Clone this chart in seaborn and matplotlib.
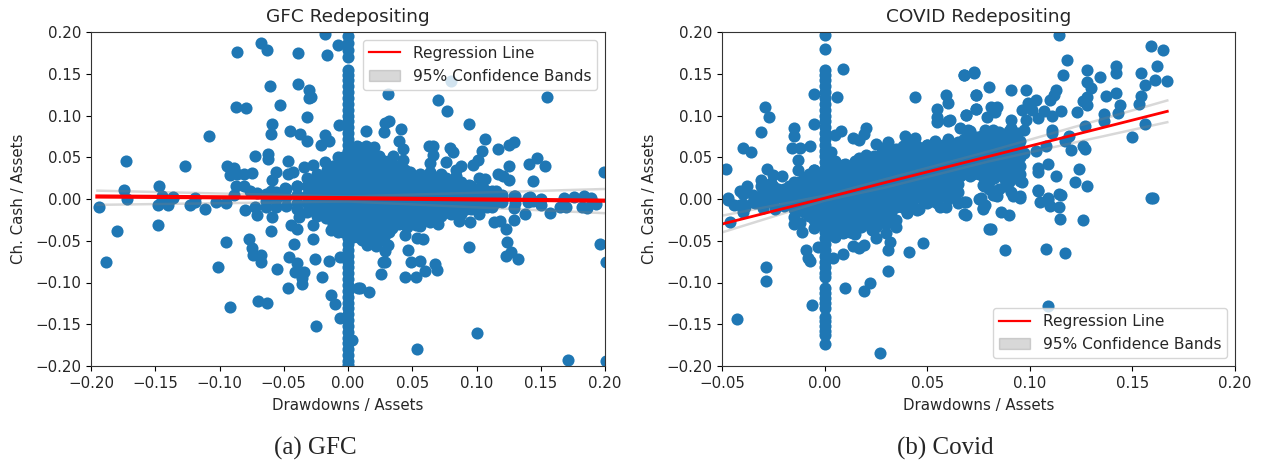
import pandas as pd
import seaborn as sns
import matplotlib.pyplot as plt
from matplotlib.lines import Line2D
from matplotlib.patches import Patch

# GFC panel: points
gfc_upper = [(-0.173,0.045),(-0.174,0.011),(-0.147,0.015),(-0.127,0.039),(-0.108,0.076),(-0.087,0.110),(-0.079,0.109),
    (-0.086,0.176),(-0.068,0.187),(-0.063,0.179),(-0.039,0.175),(-0.018,0.198),(-0.016,0.172),(-0.008,0.184),
    (-0.061,0.135),(-0.039,0.138),(-0.030,0.131),(-0.030,0.121),(-0.029,0.122),(-0.053,0.113),(-0.032,0.098),
    (-0.059,0.090),(-0.060,0.078),(-0.045,0.082),(-0.037,0.078),(-0.032,0.070),(-0.021,0.065),(-0.018,0.077),
    (-0.015,0.069),(-0.007,0.089),(-0.072,0.052),(-0.062,0.054),(-0.062,0.048),(-0.047,0.045),(-0.018,0.044),
    (-0.034,0.038),(-0.027,0.041),(-0.094,0.040),(-0.089,0.037),(-0.092,0.029),(-0.086,0.030),(-0.081,0.030),
    (-0.075,0.031),(-0.056,0.032),(-0.059,0.023),(-0.047,0.030),(-0.043,0.032),(-0.087,0.016),(-0.081,0.015),
    (-0.089,0.005),(-0.076,0.009),(-0.071,0.007),(-0.060,0.009),(-0.049,0.013),(-0.040,0.015),(-0.136,0.002),
    (-0.145,0.003),(-0.119,0.001),
    (0.031,0.126),(0.070,0.118),(0.077,0.105),(0.080,0.141),(0.155,0.122),(0.094,0.090),(0.029,0.091),(0.032,0.093),
    (0.028,0.080),(0.041,0.084),(0.014,0.082),(0.107,0.072),(0.040,0.069),(0.043,0.060),(0.063,0.064),(0.066,0.064),
    (0.079,0.061),(0.082,0.056),(0.104,0.058),(0.117,0.060),(0.125,0.065),(0.129,0.068),(0.007,0.063),(0.014,0.063),
    (0.020,0.062),(0.035,0.051),(0.024,0.051),(0.043,0.047),(0.064,0.043),(0.066,0.053),(0.076,0.044),(0.088,0.040),
    (0.084,0.035),(0.084,0.027),(0.097,0.041),(0.101,0.047),(0.125,0.039),(0.141,0.042),(0.147,0.049),(0.153,0.039),
    (0.144,0.022),(0.117,0.030),(0.121,0.027),(0.125,0.023),(0.102,0.025),(0.107,0.024),(0.199,0.032),(0.094,0.017),
    (0.105,0.013),(0.115,0.010),(0.129,0.003),(0.142,0.002),(0.168,0.001),(0.176,0.002),(0.184,0.003),(0.189,0.001)]
gfc_lower = [(-0.194,-0.010),(-0.188,-0.076),(-0.180,-0.038),(-0.172,0.000),(-0.148,-0.031),(-0.148,-0.007),(-0.140,-0.007),
    (-0.145,0.001),(-0.136,0.001),(-0.123,-0.007),(-0.119,-0.003),(-0.111,-0.012),(-0.103,-0.004),(-0.095,-0.005),
    (-0.095,-0.052),(-0.101,-0.081),(-0.092,-0.129),(-0.077,-0.048),(-0.075,-0.059),(-0.074,-0.067),(-0.068,-0.067),
    (-0.068,-0.075),(-0.055,-0.084),(-0.070,-0.122),(-0.063,-0.125),(-0.060,-0.038),(-0.059,-0.021),(-0.071,-0.019),
    (-0.080,-0.013),(-0.072,-0.009),(-0.044,-0.031),(-0.040,-0.036),(-0.038,-0.021),(-0.042,-0.054),(-0.046,-0.069),
    (-0.040,-0.077),(-0.041,-0.088),(-0.034,-0.087),(-0.036,-0.095),(-0.036,-0.102),(-0.047,-0.107),(-0.027,-0.048),
    (-0.026,-0.072),(-0.015,-0.074),(-0.020,-0.094),(-0.027,-0.031),(-0.017,-0.023),(-0.013,-0.037),(-0.013,-0.115),
    (-0.010,-0.126),(-0.006,-0.143),(-0.025,-0.152),(-0.006,-0.069),(0.008,-0.106),(0.003,-0.169),
    (0.009,-0.106),(0.016,-0.111),(0.100,-0.160),(0.054,-0.180),(0.171,-0.193),(0.2005,-0.194),(0.196,-0.054),
    (0.2005,-0.075),(0.094,-0.058),(0.123,-0.068),(0.127,-0.063),(0.132,-0.072),(0.124,-0.051),(0.123,-0.036),
    (0.129,-0.025),(0.138,-0.018),(0.157,-0.017),(0.114,-0.027),(0.118,-0.026),(0.095,-0.028),(0.102,-0.018),
    (0.086,-0.026),(0.070,-0.030),(0.047,-0.061),(0.049,-0.075),(0.056,-0.074),(0.068,-0.078),(0.069,-0.085),
    (0.060,-0.086),(0.053,-0.093),(0.044,-0.094),(0.026,-0.090),(0.027,-0.076),(0.029,-0.076),(0.029,-0.062),
    (0.031,-0.055),(0.022,-0.056),(0.015,-0.055),(0.011,-0.049),(0.058,-0.048),(0.054,-0.047),(0.044,-0.043),
    (0.034,-0.035),(0.037,-0.029),(0.046,-0.033),(0.053,-0.031),(0.020,-0.041),(0.129,-0.011),(0.165,-0.010),
    (0.182,-0.009),(0.186,-0.011),(0.193,-0.006),(0.170,-0.009),(0.150,-0.007),(0.144,-0.002)]
gfc_column = [0.195,0.187,0.178,0.170,0.155,0.149,0.142,0.135,0.128,0.121,0.114,0.107,0.100,0.093,0.086,0.079,0.072,
    0.065,0.058,0.051,0.044,0.037,0.030,0.023,0.016,0.009,0.002,-0.005,-0.012,-0.019,-0.026,-0.033,-0.040,-0.047,
    -0.054,-0.061,-0.068,-0.075,-0.082,-0.089,-0.096,-0.103,-0.110,-0.117,-0.124,-0.131,-0.138,-0.145,-0.152,-0.159,
    -0.166,-0.173,-0.180,-0.187,-0.194,-0.199]
# dense middle of the GFC cloud, one y list per x
gfc_dense_x = [-0.064,-0.056,-0.048,-0.040,-0.032,-0.024,-0.016,-0.008,0.008,0.016,0.024,0.032,0.040,0.048,0.056,0.064,
    0.072,0.080,0.088,0.096,0.104,0.112,0.120,0.130,0.140,0.150,
    -0.028,-0.020,-0.012,-0.004,0.004,0.012,0.020,0.028,0.036,0.044,0.052,0.060,0.068,0.076,0.084,0.092,0.100,0.108,0.116]
gfc_dense_y = [[0.006,-0.002,-0.010],[0.008,0.000,-0.009],[0.012,0.002,-0.008],[0.015,0.005,-0.005,-0.012],
    [0.025,0.015,0.005,-0.005,-0.015],[0.030,0.020,0.010,0.000,-0.010,-0.020],[0.035,0.024,0.013,0.002,-0.009,-0.020],
    [0.050,0.040,0.030,0.020,0.010,0.000,-0.010,-0.020,-0.030,-0.040],
    [0.062,0.050,0.040,0.030,0.020,0.010,0.000,-0.010,-0.020,-0.030,-0.040,-0.045],
    [0.058,0.047,0.036,0.025,0.014,0.003,-0.008,-0.019,-0.030,-0.041,-0.050],
    [0.050,0.040,0.030,0.020,0.010,0.000,-0.010,-0.020,-0.030,-0.040,-0.050],
    [0.045,0.035,0.025,0.015,0.005,-0.005,-0.015,-0.025,-0.040],[0.040,0.030,0.020,0.010,0.000,-0.010,-0.020,-0.030],
    [0.032,0.022,0.012,0.002,-0.008,-0.018,-0.028],[0.030,0.020,0.010,0.000,-0.010,-0.020,-0.032],
    [0.032,0.022,0.012,0.002,-0.008,-0.018,-0.028],[0.030,0.020,0.010,0.000,-0.010,-0.020],
    [0.022,0.012,0.002,-0.008,-0.018],[0.020,0.010,0.000,-0.010,-0.018],[0.015,0.005,-0.005,-0.012],
    [0.012,0.002,-0.008],[0.010,0.000,-0.010],[0.005,-0.004],[0.003,-0.005],[0.001,-0.003],[0.000],
    [0.020,0.010,0.000,-0.010],[0.025,0.015,0.005,-0.005,-0.015],[0.040,0.030,0.020,0.010,0.000,-0.010,-0.020,-0.030],
    [0.050,0.040,0.030,0.020,0.010,0.000,-0.010,-0.020,-0.030,-0.040],
    [0.055,0.045,0.035,0.025,0.015,0.005,-0.005,-0.015,-0.025,-0.035,-0.045],
    [0.052,0.042,0.032,0.022,0.012,0.002,-0.008,-0.018,-0.028,-0.038,-0.048],
    [0.052,0.042,0.032,0.022,0.012,0.002,-0.008,-0.018,-0.028,-0.040],
    [0.045,0.035,0.025,0.015,0.005,-0.005,-0.015,-0.025,-0.035,-0.045],
    [0.040,0.030,0.020,0.010,0.000,-0.010,-0.020,-0.030],[0.035,0.025,0.015,0.005,-0.005,-0.015,-0.025],
    [0.025,0.015,0.005,-0.005,-0.015,-0.025],[0.025,0.015,0.005,-0.005,-0.015,-0.025],
    [0.025,0.015,0.005,-0.005,-0.015,-0.025],[0.025,0.015,0.005,-0.005,-0.015],[0.015,0.005,-0.005,-0.015],
    [0.015,0.005,-0.005,-0.012],[0.012,0.002,-0.008],[0.010,0.000,-0.010],[0.006,-0.004]]
gfc_line_x = [-0.195,0.0,0.2]
gfc_line_y = [0.003,0.001,-0.002]
gfc_band_up = [0.010,0.003,0.012]
gfc_band_lo = [-0.007,-0.003,-0.017]

# COVID panel
covid_upper = [(0.009,0.156),(-0.005,0.126),(0.006,0.122),(-0.029,0.110),(-0.027,0.098),(-0.005,0.090),(-0.031,0.080),
    (-0.015,0.085),(-0.015,0.076),(0.005,0.077),(0.008,0.081),(0.020,0.085),(0.014,0.073),(0.017,0.071),(0.019,0.078),
    (-0.040,0.061),(-0.036,0.056),(-0.016,0.061),(-0.012,0.061),(-0.007,0.064),(-0.048,0.036),(-0.028,0.036),
    (-0.013,0.047),(-0.013,0.035),(0.003,0.056),(0.025,0.066),(0.031,0.068),(0.028,0.061),(0.039,0.075),(0.044,0.073),
    (0.038,0.063),(0.044,0.122),(0.050,0.065),(0.054,0.069),(0.060,0.072),(0.055,0.108),(0.055,0.098),(0.055,0.092),
    (0.060,0.093),(0.061,0.095),(0.059,0.125),(0.060,0.115),(0.068,0.148),(0.073,0.151),(0.074,0.125),(0.074,0.108),
    (0.069,0.101),(0.066,0.085),(0.071,0.082),(0.068,0.072),(0.074,0.074),(-0.031,0.023),(-0.025,0.029),(-0.021,0.028),
    (-0.031,0.015),(-0.038,0.016),(-0.041,0.010),(-0.026,0.019),(-0.047,0.001),(-0.016,0.015),(-0.005,0.035),
    (-0.010,0.021),(0.009,0.041),(0.017,0.049),(0.020,0.053),(0.024,0.051),(0.034,0.051),
    (0.114,0.197),(0.118,0.167),(0.128,0.155),(0.116,0.148),(0.134,0.146),(0.142,0.159),(0.142,0.151),(0.154,0.151),
    (0.159,0.183),(0.165,0.179),(0.162,0.159),(0.161,0.143),(0.167,0.141),(0.156,0.137),(0.154,0.123),(0.153,0.114),
    (0.128,0.140),(0.130,0.133),(0.113,0.131),(0.112,0.125),(0.110,0.119),(0.128,0.122),(0.126,0.117),(0.128,0.113),
    (0.137,0.123),(0.142,0.127),(0.144,0.113),(0.143,0.103),(0.136,0.102),(0.136,0.093),(0.123,0.104),(0.127,0.087),
    (0.156,0.090),(0.150,0.074),(0.073,0.152),(0.068,0.149),(0.080,0.134),(0.091,0.130),(0.098,0.131),(0.074,0.125),
    (0.103,0.119),(0.099,0.115),(0.074,0.108),(0.081,0.110),(0.084,0.110),(0.083,0.104),(0.079,0.098),(0.069,0.101),
    (0.091,0.095),(0.098,0.095),(0.096,0.107),(0.101,0.107),(0.107,0.105),(0.115,0.105),(0.104,0.097),(0.111,0.099),
    (0.111,0.083),(0.111,0.079),(0.119,0.075),(0.117,0.069),(0.120,0.059),(0.126,0.064),(0.127,0.060),(0.108,0.063),
    (0.103,0.057),(0.097,0.055),(0.109,0.042),(0.104,0.037),(0.104,0.032),(0.124,0.036),(0.113,0.027),(0.122,0.020),
    (0.128,0.015),(0.104,0.011),(0.114,0.006),(0.159,0.001),(0.096,0.020),(0.088,0.015),(0.077,0.017),(0.082,0.009),
    (0.083,0.005),(0.091,0.008),(0.095,0.003),(0.109,0.001),
    (0.082,0.083),(0.078,0.083),(0.070,0.083),(0.091,0.085),(0.094,0.079),(0.097,0.083),(0.076,0.075),(0.082,0.075),
    (0.069,0.067),(0.076,0.067),(0.082,0.063),(0.091,0.071),(0.094,0.067),(0.066,0.059),(0.073,0.059),(0.079,0.051),
    (0.086,0.047),(0.091,0.047),(0.069,0.039),(0.076,0.035),(0.084,0.035),(0.091,0.035),(0.094,0.027),(0.066,0.027),
    (0.071,0.027)]
covid_lower = [(-0.0425,-0.144),(-0.0285,-0.082),(-0.0285,-0.098),(-0.046,-0.028),(-0.047,-0.001),(-0.044,-0.007),
    (-0.041,-0.007),(-0.040,-0.015),(-0.039,-0.009),(-0.024,-0.012),(-0.034,-0.005),(-0.030,-0.011),(-0.015,-0.021),
    (-0.015,-0.030),(-0.012,-0.029),(-0.011,-0.040),(-0.008,-0.019),(-0.009,-0.061),(-0.008,-0.071),(-0.007,-0.074),
    (-0.003,-0.057),(-0.006,-0.127),(0.004,-0.071),(0.009,-0.066),(0.010,-0.107),(0.019,-0.110),(0.022,-0.100),
    (0.031,-0.086),(0.027,-0.184),(0.041,-0.064),(0.048,-0.053),(0.031,-0.061),(0.032,-0.051),(0.017,-0.059),
    (0.019,-0.055),(0.014,-0.056),(0.025,-0.047),(0.023,-0.037),(0.035,-0.034),(0.030,-0.041),(0.009,-0.041),
    (0.014,-0.041),(0.017,-0.031),(0.004,-0.033),(0.040,-0.017),(0.046,-0.012),(0.056,-0.009),(0.059,-0.009),
    (0.069,-0.003),(0.068,-0.018),(0.075,0.000),(0.077,-0.012),(0.080,-0.036),
    (0.160,0.001),(0.1145,-0.024),(0.126,-0.025),(0.081,-0.036),(0.088,-0.061),(0.108,-0.060),(0.117,-0.065),
    (0.109,-0.128),(0.086,-0.016),(0.090,-0.019),(0.105,-0.004),(0.109,-0.001),(0.110,-0.008),(0.114,-0.009),
    (0.115,0.005),(0.077,-0.011),(0.078,-0.007),(0.076,0.001),(0.068,-0.003),(0.069,-0.019),(0.082,0.005),
    (0.084,0.004),(0.092,0.003),(0.095,0.001),(0.104,0.009)]
covid_column = [0.196,0.180,0.155,0.149,0.142,0.135,0.128,0.121,0.114,0.107,0.100,0.093,0.086,0.079,0.072,0.065,0.058,
    0.051,0.044,0.037,0.030,0.023,0.016,0.009,0.002,-0.005,-0.012,-0.019,-0.026,-0.033,-0.040,-0.047,-0.054,-0.061,
    -0.068,-0.075,-0.082,-0.089,-0.094,-0.107,-0.113,-0.119,-0.125,-0.130,-0.141,-0.146,-0.152,-0.158,-0.163,-0.174]
covid_dense_x = [-0.040,-0.035,-0.030,-0.025,-0.020,-0.015,-0.010,-0.005,0.005,0.010,0.015,0.020,0.025,0.030,0.035,0.040,
    0.045,0.050,0.055,0.060,0.065,0.070,0.075,0.080,0.085,0.090,0.095,
    -0.0275,-0.0225,-0.0175,-0.0125,-0.0075,-0.0025,0.0025,0.0075,0.0125,0.0175,0.0225,0.0275,0.0325,0.0375,0.0425,
    0.0475,0.0525,0.0575,0.0625,0.0675,0.0725,0.0775,0.0825,0.0875,0.0925]
covid_dense_y = [[0.006,-0.006],[0.005,-0.004],[0.010,0.000,-0.008],[0.015,0.005,-0.005],[0.012,0.002,-0.008],
    [0.020,0.010,0.000,-0.012],[0.025,0.015,0.005,-0.005,-0.015],[0.035,0.025,0.015,0.005,-0.005,-0.015,-0.025,-0.035],
    [0.045,0.035,0.025,0.015,0.005,-0.005,-0.015,-0.025,-0.035,-0.045],
    [0.042,0.032,0.022,0.012,0.002,-0.008,-0.018,-0.028,-0.040],
    [0.045,0.035,0.025,0.015,0.005,-0.005,-0.015,-0.025,-0.035,-0.042],
    [0.052,0.042,0.032,0.022,0.012,0.002,-0.008,-0.018,-0.030],
    [0.050,0.040,0.030,0.020,0.010,0.000,-0.010,-0.020,-0.033],
    [0.058,0.048,0.038,0.028,0.018,0.008,-0.002,-0.012,-0.022,-0.030],
    [0.060,0.050,0.040,0.030,0.020,0.010,0.000,-0.010,-0.025],
    [0.065,0.055,0.045,0.035,0.025,0.015,0.005,-0.005,-0.015],
    [0.063,0.053,0.043,0.033,0.023,0.013,0.003,-0.013],[0.065,0.055,0.045,0.035,0.025,0.015,0.005,-0.005],
    [0.062,0.052,0.042,0.032,0.022,0.012,0.002,-0.005],[0.070,0.060,0.050,0.040,0.030,0.020,0.010,0.000],
    [0.068,0.058,0.048,0.038,0.028,0.018,0.008,-0.005],[0.075,0.065,0.055,0.045,0.035],
    [0.070,0.060,0.050,0.040,0.030],[0.080,0.070,0.060,0.050,0.040,0.030,0.020,0.012],
    [0.080,0.070,0.060,0.050,0.040,0.030,0.012],[0.082,0.072,0.062,0.052,0.042,0.032,0.020],
    [0.070,0.060,0.050,0.040,0.030,0.022],
    [0.010,0.000],[0.012,0.002],[0.015,0.005,-0.005],[0.020,0.010,0.000,-0.010],[0.030,0.020,0.010,0.000,-0.010,-0.020],
    [0.030,0.020,0.010,0.000,-0.010,-0.020,-0.030],[0.040,0.030,0.020,0.010,0.000,-0.010,-0.020,-0.030,-0.040],
    [0.040,0.030,0.020,0.010,0.000,-0.010,-0.020,-0.030,-0.040],[0.040,0.030,0.020,0.010,0.000,-0.010,-0.020,-0.030,-0.040],
    [0.047,0.037,0.027,0.017,0.007,-0.003,-0.013,-0.023,-0.033],[0.045,0.035,0.025,0.015,0.005,-0.005,-0.015,-0.025],
    [0.053,0.043,0.033,0.023,0.013,0.003,-0.007,-0.017,-0.027],[0.055,0.045,0.035,0.025,0.015,0.005,-0.005,-0.015],
    [0.060,0.050,0.040,0.030,0.020,0.010,0.000,-0.010],[0.058,0.048,0.038,0.028,0.018,0.008,-0.002,-0.010],
    [0.060,0.050,0.040,0.030,0.020,0.010,0.000],[0.058,0.048,0.038,0.028,0.018,0.008,-0.002],
    [0.065,0.055,0.045,0.035,0.025,0.015,0.005],[0.063,0.053,0.043,0.033,0.023,0.013,0.003],
    [0.070,0.060,0.050,0.040,0.030],[0.065,0.055,0.045,0.035,0.030],[0.075,0.065,0.055,0.045,0.035,0.025,0.015],
    [0.075,0.065,0.055,0.045,0.035,0.025],[0.075,0.065,0.055,0.045,0.035,0.025],[0.065,0.055,0.045,0.035]]
covid_line_x = [-0.05,0.0,0.03,0.08,0.167]
covid_line_y = [-0.030,0.001,0.020,0.051,0.105]
covid_band_up = [-0.020,0.004,0.024,0.057,0.118]
covid_band_lo = [-0.040,-0.002,0.014,0.045,0.092]

gfc_xticks = [-0.20,-0.15,-0.10,-0.05,0.00,0.05,0.10,0.15,0.20]
covid_xticks = [-0.05,0.00,0.05,0.10,0.15,0.20]
yticks = [-0.20,-0.15,-0.10,-0.05,0.00,0.05,0.10,0.15,0.20]

plt.rcParams["text.color"] = "#262626"
plt.rcParams["axes.labelcolor"] = "#262626"
plt.rcParams["xtick.labelcolor"] = "#262626"
plt.rcParams["ytick.labelcolor"] = "#262626"
plt.rcParams["axes.edgecolor"] = "#333333"


def build_points(upper, lower, column, dense_x, dense_y):
    pts = list(upper) + list(lower)
    pts += [(0.0, v) for v in column]
    for x, ys in zip(dense_x, dense_y):
        pts += [(x, v) for v in ys]
    return pd.DataFrame(pts, columns=["x", "y"])


def draw_panel(ax, df, line_x, line_y, band_up, band_lo, title, xlim, xticks, legend_loc, line_w):
    sns.scatterplot(data=df, x="x", y="y", ax=ax, s=76, color="#1f77b4", linewidth=0, clip_on=True)
    sns.lineplot(x=line_x, y=band_up, ax=ax, color="gray", alpha=0.3, linewidth=1.8, errorbar=None)
    sns.lineplot(x=line_x, y=band_lo, ax=ax, color="gray", alpha=0.3, linewidth=1.8, errorbar=None)
    sns.lineplot(x=line_x, y=line_y, ax=ax, color="red", linewidth=line_w, errorbar=None)
    ax.set_xlim(xlim)
    ax.set_ylim(-0.2, 0.2)
    ax.set_xticks(xticks)
    ax.set_yticks(yticks)
    ax.set_xticklabels([f"{t:.2f}".replace("-", "\u2212") for t in xticks])
    ax.set_yticklabels([f"{t:.2f}".replace("-", "\u2212") for t in yticks])
    ax.tick_params(labelsize=10.8)
    ax.set_title(title, fontsize=13.3, pad=7)
    ax.set_xlabel("Drawdowns / Assets", fontsize=10.8, labelpad=5)
    ax.set_ylabel("Ch. Cash / Assets", fontsize=10.8, labelpad=7)
    handles = [Line2D([0], [0], color="red", linewidth=1.6),
               Patch(color="gray", alpha=0.3)]
    ax.legend(handles, ["Regression Line", "95% Confidence Bands"], loc=legend_loc, fontsize=11.1)


W, H = 1261, 462
fig = plt.figure(figsize=(W / 100, H / 100), dpi=100)
ax1 = fig.add_axes([91 / W, (H - 366) / H, 514 / W, 334 / H])
ax2 = fig.add_axes([722 / W, (H - 366) / H, 513 / W, 334 / H])

draw_panel(ax1, build_points(gfc_upper, gfc_lower, gfc_column, gfc_dense_x, gfc_dense_y),
           gfc_line_x, gfc_line_y, gfc_band_up, gfc_band_lo, "GFC Redepositing", (-0.2, 0.2), gfc_xticks,
           "upper right", 3.0)
draw_panel(ax2, build_points(covid_upper, covid_lower, covid_column, covid_dense_x, covid_dense_y),
           covid_line_x, covid_line_y, covid_band_up, covid_band_lo, "COVID Redepositing", (-0.05, 0.2), covid_xticks,
           "lower right", 2.0)

fig.text(315 / W, (H - 448) / H, "(a) GFC", family="Liberation Serif", fontsize=18, ha="center", va="center")
fig.text(945 / W, (H - 448) / H, "(b) Covid", family="Liberation Serif", fontsize=18, ha="center", va="center")

fig.savefig("out.png", dpi=100)
